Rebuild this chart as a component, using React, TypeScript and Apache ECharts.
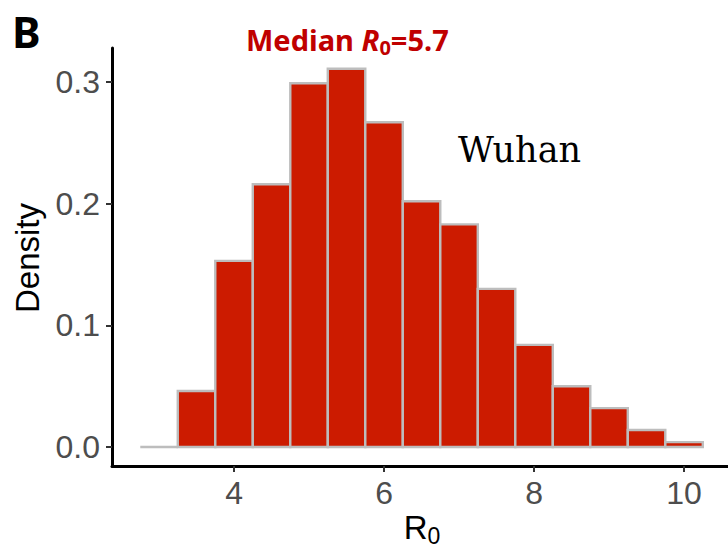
import React, { useEffect, useRef } from "react";
import * as echarts from "echarts";

const binStart = [2.75, 3.25, 3.75, 4.25, 4.75, 5.25, 5.75, 6.25, 6.75, 7.25, 7.75, 8.25, 8.75, 9.25, 9.75];
const binEnd = [3.25, 3.75, 4.25, 4.75, 5.25, 5.75, 6.25, 6.75, 7.25, 7.75, 8.25, 8.75, 9.25, 9.75, 10.25];
const density = [0, 0.046, 0.153, 0.216, 0.299, 0.311, 0.267, 0.202, 0.183, 0.13, 0.084, 0.05, 0.032, 0.014, 0.004];
const xTicks = [4, 6, 8, 10];
const yTicks = [0, 0.1, 0.2, 0.3];

export default function App() {
  const ref = useRef<HTMLDivElement>(null);
  useEffect(() => {
    document.body.style.margin = "0";
    const chart = echarts.init(ref.current!, null, { renderer: "svg" });
    const data = binStart.map((s, i) => [s, binEnd[i], density[i]]);
    const tickFont = "Liberation Sans, Arial, sans-serif";
    chart.setOption({
      animation: false,
      backgroundColor: "#ffffff",
      grid: { left: 112, right: 0, top: 48, bottom: 83, containLabel: false },
      xAxis: {
        type: "value",
        min: 2.373,
        max: 10.586,
        splitLine: { show: false },
        axisLine: { show: true, onZero: false, lineStyle: { color: "#000", width: 3 } },
        axisTick: { show: true, customValues: xTicks, length: 6, lineStyle: { color: "#333", width: 2 } },
        axisLabel: {
          customValues: xTicks,
          margin: 11,
          fontSize: 32,
          color: "#4D4D4D",
          fontFamily: tickFont,
        },
      },
      yAxis: {
        type: "value",
        min: -0.0156,
        max: 0.328,
        splitLine: { show: false },
        axisLine: { show: true, onZero: false, lineStyle: { color: "#000", width: 3 } },
        axisTick: { show: true, customValues: yTicks, length: 6, lineStyle: { color: "#333", width: 2 } },
        axisLabel: {
          customValues: yTicks,
          margin: 12,
          fontSize: 32,
          color: "#4D4D4D",
          fontFamily: tickFont,
          formatter: (v: number) => v.toFixed(1),
        },
      },
      series: [
        {
          type: "custom",
          data,
          encode: { x: [0, 1], y: 2 },
          renderItem: (params: any, api: any) => {
            const x0 = api.value(0);
            const x1 = api.value(1);
            const y = api.value(2);
            const p0 = api.coord([x0, y]);
            const p1 = api.coord([x1, 0]);
            return {
              type: "rect",
              shape: { x: p0[0], y: p0[1], width: p1[0] - p0[0], height: p1[1] - p0[1] },
              style: { fill: "#CC1B00", stroke: "#BDBDBD", lineWidth: 2.4 },
            };
          },
        },
      ],
      graphic: [
        {
          type: "text",
          x: 12,
          y: 31,
          style: { text: "B", fontSize: 43, fontWeight: "bold", fontFamily: "Noto Sans", fill: "#000", verticalAlign: "middle", lineHeight: 44 },
        },
        {
          type: "text",
          x: 246,
          y: 39,
          style: {
            text: "{a|Median }{i|R}{s|0}{a|=5.7}",
            verticalAlign: "middle",
            rich: {
              a: { fontSize: 29, fontWeight: "bold", fontFamily: "Noto Sans", fill: "#C00000", lineHeight: 36 },
              i: { fontSize: 29, fontWeight: "bold", fontStyle: "italic", fontFamily: "Noto Sans", fill: "#C00000", lineHeight: 36 },
              s: { fontSize: 20, fontWeight: "bold", fontFamily: "Noto Sans", fill: "#C00000", lineHeight: 34, verticalAlign: "bottom" },
            },
          },
        },
        {
          type: "text",
          x: 458,
          y: 150,
          style: { text: "Wuhan", fontSize: 35, fontFamily: "DejaVu Serif", fill: "#000", verticalAlign: "middle" },
        },
        {
          type: "text",
          x: 27,
          y: 258,
          rotation: Math.PI / 2,
          style: { text: "Density", fontSize: 33, fontFamily: tickFont, fill: "#000", align: "center", verticalAlign: "middle" },
        },
        {
          type: "text",
          x: 422,
          y: 527,
          style: {
            text: "{r|R}{s|0}",
            align: "center",
            verticalAlign: "middle",
            rich: {
              r: { fontSize: 33, fontFamily: tickFont, fill: "#000", lineHeight: 40 },
              s: { fontSize: 23, fontFamily: tickFont, fill: "#000", lineHeight: 40, verticalAlign: "bottom" },
            },
          },
        },
      ],
    });
    return () => chart.dispose();
  }, []);
  return <div ref={ref} style={{ width: 728, height: 549 }} />;
}
